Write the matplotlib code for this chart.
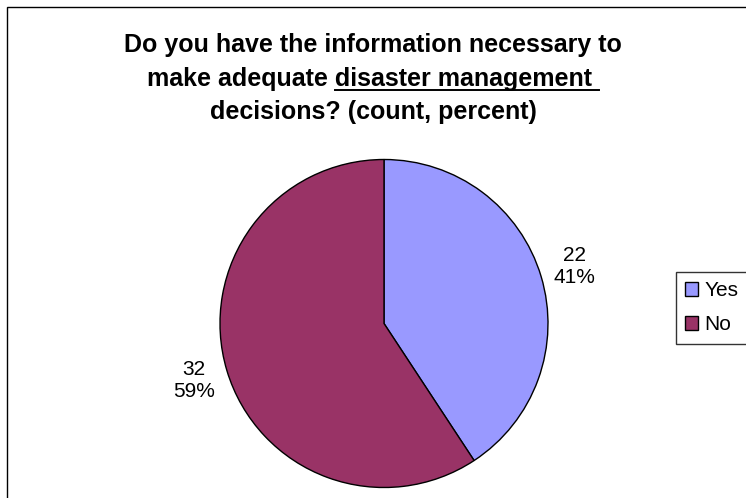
import matplotlib
matplotlib.use('Agg')
from matplotlib import pyplot as plt
from matplotlib.patches import Patch, Rectangle
from matplotlib.lines import Line2D
import numpy as np

# Survey answers
categories = ['Yes', 'No']
counts = [22, 32]
colors = ['#9999FF', '#993366']

title_lines = ['Do you have the information necessary to',
               'make adequate ', 'disaster management ',
               'decisions? (count, percent)']

W, H = 746, 498
plt.rcParams['font.family'] = ['Liberation Sans', 'DejaVu Sans']

fig = plt.figure(figsize=(W / 100, H / 100), dpi=100, facecolor='white')

# chart-area border (right and bottom run off the canvas)
fig.add_artist(Rectangle((7 / W, -0.1), 1.2, 1.1 - 7 / H,
                         transform=fig.transFigure, fill=False,
                         edgecolor='black', linewidth=1.0))

# pie: centre (384, 323) px, radius 164 px
cx, cy, r = 384, 323.5, 164
ax = fig.add_axes([(cx - r) / W, 1 - (cy + r) / H, 2 * r / W, 2 * r / H])
wedges, _ = ax.pie(counts, colors=colors, startangle=90, counterclock=False,
                   wedgeprops=dict(edgecolor='black', linewidth=1.0))
ax.set_xlim(-1, 1)
ax.set_ylim(-1, 1)
ax.set_aspect('equal')
ax.axis('off')

total = sum(counts)
for w, c in zip(wedges, counts):
    mid = np.deg2rad((w.theta1 + w.theta2) / 2)
    pct = round(100 * c / total)
    ax.text(1.21 * np.cos(mid), 1.21 * np.sin(mid), f'{c}\n{pct}%',
            ha='center', va='center', fontsize=15, linespacing=1.2,
            clip_on=False)

# legend
handles = [Patch(facecolor=col, edgecolor='black', linewidth=1.0)
           for col in colors]
leg = fig.legend(handles, categories, loc='upper left',
                 bbox_to_anchor=(676 / W, 1 - 272 / H), fontsize=15,
                 frameon=True, fancybox=False, shadow=False,
                 handlelength=0.6, handleheight=0.6, handletextpad=0.3,
                 labelspacing=0.72, borderpad=0.45, borderaxespad=0)
leg.get_frame().set_edgecolor('black')
leg.get_frame().set_linewidth(1.0)

# title, three lines, with part of the second underlined
tkw = dict(fontsize=18, fontweight='bold', ha='center', va='baseline')
fig.text(0.5, 1 - 52 / H, title_lines[0], **tkw)
line2 = fig.text(0.5, 1 - 86 / H, title_lines[1] + title_lines[2], **tkw)
fig.text(0.5, 1 - 119 / H, title_lines[3], **tkw)

fig.canvas.draw()
rend = fig.canvas.get_renderer()
bb = line2.get_window_extent(rend)
probe = fig.text(0, 0, title_lines[1], fontsize=18, fontweight='bold')
w_pre = probe.get_window_extent(rend).width
probe.set_text(title_lines[2])
w_und = probe.get_window_extent(rend).width
probe.remove()
uy = 1 - 90 / H
fig.add_artist(Line2D([(bb.x0 + w_pre) / W, (bb.x0 + w_pre + w_und) / W],
                      [uy, uy], transform=fig.transFigure,
                      color='black', linewidth=1.4))

fig.savefig('out.png', dpi=100, facecolor='white')
